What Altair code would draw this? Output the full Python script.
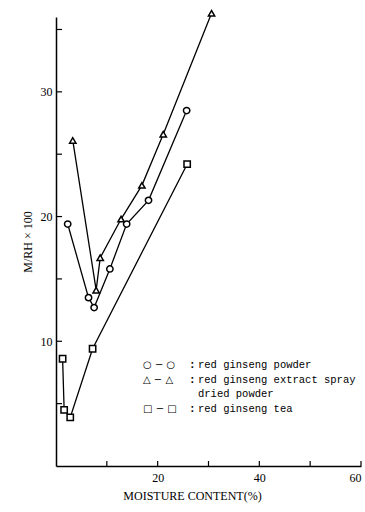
import altair as alt
import pandas as pd

# --- data ---
powder_x = [2.3, 6.4, 7.5, 10.6, 13.9, 18.2, 25.7]
powder_y = [19.4, 13.5, 12.7, 15.8, 19.4, 21.3, 28.5]
extract_x = [3.3, 7.9, 8.7, 12.8, 16.9, 21.1, 30.6]
extract_y = [26.1, 14.1, 16.7, 19.8, 22.5, 26.6, 36.3]
tea_x = [1.3, 1.6, 2.8, 7.2, 25.8]
tea_y = [8.6, 4.5, 3.9, 9.4, 24.2]

series_names = ["powder", "extract", "tea"]
series_shapes = ["circle", "triangle-up", "square"]

y_ticks = [5, 10, 15, 20, 25, 30, 35]
y_labels = [10, 20, 30]
x_ticks = [10, 20, 30, 40, 50, 60]
x_labels = [20, 40, 60]

legend_symbols = ["○ − ○", "△ − △", "", "□ − □"]
legend_colons = [":", ":", "", ":"]
legend_texts = ["red ginseng powder", "red ginseng extract spray",
                "dried powder", "red ginseng tea"]

rows = []
for name, xs, ys in [("powder", powder_x, powder_y),
                     ("extract", extract_x, extract_y),
                     ("tea", tea_x, tea_y)]:
    for i, (a, b) in enumerate(zip(xs, ys)):
        rows.append({"series": name, "x": a, "y": b, "i": i})
df = pd.DataFrame(rows)

xscale = alt.Scale(domain=[0, 60], nice=False, zero=False)
yscale = alt.Scale(domain=[0, 36], nice=False, zero=False)

serif = "Liberation Serif"

xaxis = alt.Axis(values=x_labels, format="d", tickSize=0, labelPadding=6,
                 labelFont=serif, labelFontSize=12, labelColor="black",
                 domainColor="black", domainWidth=1.5, grid=False,
                 title="MOISTURE CONTENT(%)", titleFont=serif,
                 titleFontSize=12, titleFontWeight="normal", titleColor="black",
                 titleX=136, titleY=24)
yaxis = alt.Axis(values=y_labels, format="d", tickSize=0, labelPadding=4,
                 labelFont=serif, labelFontSize=12, labelColor="black",
                 domainColor="black", domainWidth=1.5, grid=False,
                 title="M/RH × 100", titleFont=serif, titleFontSize=12,
                 titleFontWeight="normal", titleColor="black", titlePadding=6)

base = alt.Chart(df)
lines = base.mark_line(color="black", strokeWidth=1.3).encode(
    x=alt.X("x:Q", scale=xscale, axis=xaxis),
    y=alt.Y("y:Q", scale=yscale, axis=yaxis),
    detail="series:N",
    order="i:Q",
)
points = base.mark_point(filled=True, fill="white", stroke="black",
                         strokeWidth=1.5, opacity=1, size=40).encode(
    x=alt.X("x:Q", scale=xscale),
    y=alt.Y("y:Q", scale=yscale),
    shape=alt.Shape("series:N",
                    scale=alt.Scale(domain=series_names, range=series_shapes),
                    legend=None),
)

ytick_df = pd.DataFrame({"v": y_ticks})
yticks = alt.Chart(ytick_df).mark_rule(color="black", strokeWidth=1.2).encode(
    y=alt.Y("v:Q", scale=yscale), x=alt.value(0), x2=alt.value(6))
xtick_df = pd.DataFrame({"v": x_ticks})
xticks = alt.Chart(xtick_df).mark_rule(color="black", strokeWidth=1.2).encode(
    x=alt.X("v:Q", scale=xscale), y=alt.value(449), y2=alt.value(444))

leg_df = pd.DataFrame({"sym": legend_symbols, "colon": legend_colons,
                       "txt": legend_texts, "row": [0, 1, 2, 3],
                       "py": [348, 363, 377, 392]})
leg_sym = alt.Chart(leg_df).mark_text(align="left", baseline="middle",
                                      font="DejaVu Sans", fontSize=10,
                                      color="black").encode(
    x=alt.value(87), y=alt.Y("py:Q", scale=None), text="sym:N")
leg_colon = alt.Chart(leg_df).mark_text(align="left", baseline="middle",
                                        font="Liberation Mono", fontSize=11,
                                        fontWeight="bold", color="black").encode(
    x=alt.value(133), y=alt.Y("py:Q", scale=None), text="colon:N")
leg_txt = alt.Chart(leg_df).mark_text(align="left", baseline="middle",
                                      font="Liberation Mono", fontSize=10.5,
                                      color="black").encode(
    x=alt.value(142), y=alt.Y("py:Q", scale=None), text="txt:N")

chart = alt.layer(lines, points, yticks, xticks, leg_sym, leg_colon, leg_txt).properties(
    width=305, height=449,
    padding={"left": 56, "top": 17, "right": 4, "bottom": 46},
    autosize=alt.AutoSizeParams(type="none"),
    background="white",
).configure_view(stroke=None)

chart.save("out.html", embed_options={"renderer": "svg", "actions": False})
